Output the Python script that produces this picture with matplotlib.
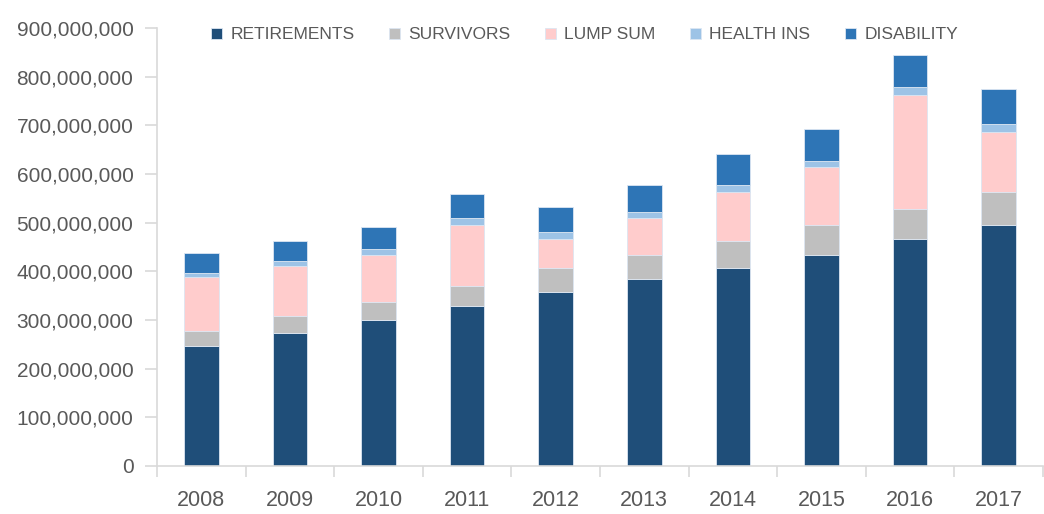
import matplotlib
matplotlib.use('Agg')
import matplotlib.pyplot as plt
from matplotlib.ticker import FuncFormatter

years = ['2008', '2009', '2010', '2011', '2012', '2013', '2014', '2015', '2016', '2017']
retirements = [247, 273, 299, 328, 357, 384, 407, 434, 467, 495]
survivors = [31, 36, 39, 42, 50, 49, 55, 61, 61, 69]
lump_sum = [110, 101, 96, 126, 60, 76, 102, 119, 234, 122]
health_ins = [8, 11, 12, 14, 13, 13, 14, 13, 16, 17]
disability = [42, 42, 46, 49, 52, 56, 63, 66, 66, 72]

series = [
    ('RETIREMENTS', retirements, '#1f4e79'),
    ('SURVIVORS', survivors, '#bfbfbf'),
    ('LUMP SUM', lump_sum, '#ffcccc'),
    ('HEALTH INS', health_ins, '#9dc3e6'),
    ('DISABILITY', disability, '#2e75b6'),
]

plt.rcParams['font.family'] = ['Liberation Sans', 'DejaVu Sans']
text_col = '#595959'
axis_col = '#d9d9d9'

fig = plt.figure(figsize=(10.44, 5.14), dpi=100)
ax = fig.add_axes([0.1504, 0.0934, 0.8486, 0.8521])

x = list(range(len(years)))
bottom = [0] * len(years)
for name, vals, col in series:
    v = [a * 1e6 for a in vals]
    ax.bar(x, v, width=0.39, bottom=bottom, color=col, label=name,
           edgecolor='#dce6f2', linewidth=0.6)
    bottom = [b + a for b, a in zip(bottom, v)]

ax.set_xlim(-0.5, len(years) - 0.5)
ax.set_ylim(0, 900e6)
ax.set_yticks([i * 100e6 for i in range(10)])
ax.yaxis.set_major_formatter(FuncFormatter(lambda v, p: f'{int(v):,}'))
ax.set_xticks(x)
ax.set_xticklabels(years)
ax.set_xticks([i - 0.5 for i in range(len(years) + 1)], minor=True)

for s in ['top', 'right']:
    ax.spines[s].set_visible(False)
for s in ['left', 'bottom']:
    ax.spines[s].set_color(axis_col)
    ax.spines[s].set_linewidth(1.2)

ax.tick_params(axis='y', colors=axis_col, labelcolor=text_col, labelsize=15,
               length=9, width=1.2, pad=8)
ax.tick_params(axis='x', which='major', length=0, labelcolor=text_col,
               labelsize=15.5, pad=17)
ax.tick_params(axis='x', which='minor', length=8, width=1.2, colors=axis_col)

fig.legend(loc='center', bbox_to_anchor=(0.56, 0.932), ncol=5, frameon=False,
           fontsize=12.5, handlelength=0.6, handleheight=0.6,
           handletextpad=0.5, columnspacing=2.0, labelcolor=text_col)

fig.savefig('out.png', dpi=100, facecolor='white')
